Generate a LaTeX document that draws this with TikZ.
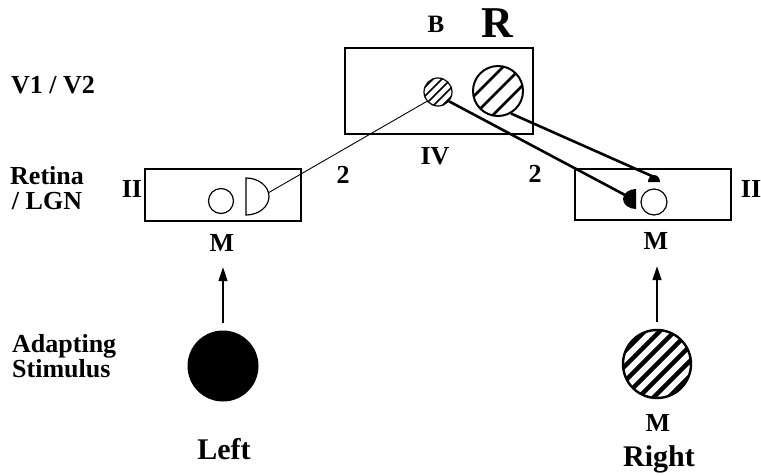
\documentclass[tikz,border=0pt]{standalone}
\usepackage{fontspec}
\setmainfont{Liberation Serif}
\usetikzlibrary{arrows.meta,positioning}
\tikzset{
lbl/.style={font=\fontsize{26}{25}\selectfont\bfseries, inner sep=0pt, anchor=base},
box/.style={draw, line width=1.3pt, inner sep=0pt},
cell/.style={circle, draw, line width=1.2pt, inner sep=0pt, minimum size=#1},
hatch/.style 2 args={path picture={
    \foreach \k in {-8,...,8}
        \draw[line width=#2] ([xshift=\k*#1]path picture bounding box.center) ++(-80,80) -- ++(160,-160);}},
arr/.style={-{Triangle[length=14pt,width=9pt]}, line width=1.2pt},
link/.style={line width=2.6pt},
thinlink/.style={line width=0.9pt},
}

\begin{document}
\begin{tikzpicture}[x=1pt, y=-1pt]
    \useasboundingbox (0,0) rectangle (761,475);

    % cortex
    \node[box, minimum width=188pt, minimum height=86pt] (cortex) at (439,91) {};
    \node[cell=28pt, hatch={9pt}{1.5pt}] (small) at (438,92) {};
    \node[cell=50pt, line width=2pt, hatch={19pt}{2.6pt}] (big) at (498,91) {};
    \node[lbl, font=\fontsize{25}{25}\selectfont\bfseries] (B) at (436,32) {B};
    \node[lbl, font=\fontsize{44}{44}\selectfont\bfseries] (R) at (497,37) {R};
    \node[lbl] (IV) at (435,164) {IV};
    \node[lbl, anchor=base west] (area) at (11,93) {V1 / V2};

    % retina / LGN, left eye
    \node[box, minimum width=156pt, minimum height=52pt] (retL) at (223,195) {};
    \node[cell=25pt] (openL) at (221,201) {};
    \draw[line width=1.2pt, fill=white] (246,215) arc[start angle=90, end angle=-90, x radius=23, y radius=18.5] -- cycle;
    \coordinate (tipL) at (268,193);
    \node[lbl] (IIL) at (132,197) {II};
    \node[lbl] (ML) at (222,251) {M};
    \node[lbl, anchor=north west, align=center] (retina) at (10,166) {Retina\\/ LGN};

    % retina / LGN, right eye
    \node[box, minimum width=156pt, minimum height=51pt] (retR) at (653,194.5) {};
    \node[cell=26pt] (openR) at (654,202) {};
    \fill (636,189) arc[start angle=270, end angle=90, x radius=13, y radius=10] -- cycle;
    \fill (648,182) arc[start angle=180, end angle=360, x radius=6, y radius=7] -- cycle;
    \coordinate (tipR) at (625,195);
    \coordinate (tipT) at (654,177);
    \node[lbl] (IIR) at (751,197) {II};
    \node[lbl] (MR) at (656,249) {M};

    % projections
    \draw[thinlink] (tipL) -- (small.-140);
    \draw[link] (small.-40) -- (tipR);
    \draw[link] (big.-60) -- (tipT);
    \node[lbl] (twoL) at (343,183) {2};
    \node[lbl] (twoR) at (535,182) {2};

    % stimuli
    \node[circle, fill, inner sep=0pt, minimum size=71pt] (stimL) at (223,366) {};
    \node[cell=68pt, line width=2.4pt, hatch={15pt}{4.5pt}] (stimR) at (657,364) {};
    \draw[arr, shorten <=7pt, shorten >=16pt] (stimL.north) -- (stimL.north |- ML.south);
    \draw[arr, shorten <=7pt, shorten >=17pt] (stimR.north) -- (stimR.north |- MR.south);
    \node[lbl] (MS) at (658,431) {M};
    \node[lbl, anchor=north west, align=left] (adapt) at (12,334) {Adapting\\Stimulus};
    \node[lbl, font=\fontsize{30}{30}\selectfont\bfseries] (leftEye) at (224,459) {Left};
    \node[lbl, font=\fontsize{30}{30}\selectfont\bfseries] (rightEye) at (659,466) {Right};
\end{tikzpicture}
\end{document}
